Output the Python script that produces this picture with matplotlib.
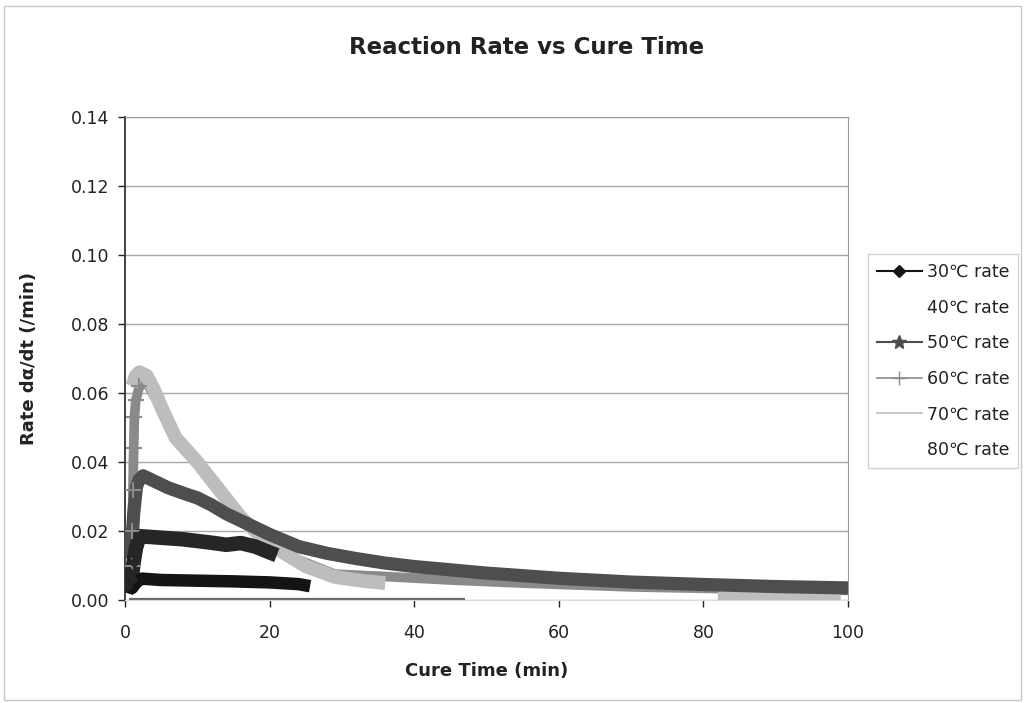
import numpy as np
import matplotlib
matplotlib.use("Agg")
import matplotlib.pyplot as plt
from matplotlib.lines import Line2D
from matplotlib.patches import Rectangle

plt.rcParams['font.family'] = ['DejaVu Sans']

# ---- data ----
t30 = [0.3, 0.6, 1.0, 1.5, 2.3, 5, 10, 15, 20, 24, 25.6]
r30 = [0.002, 0.004, 0.0035, 0.005, 0.0062, 0.0058, 0.0056, 0.0054, 0.0051, 0.0046, 0.0040]

t40 = [0.3, 0.6, 0.9, 1.2, 1.5, 2.0, 4, 8, 12, 14, 16, 18, 20, 21]
r40 = [0.004, 0.008, 0.006, 0.011, 0.015, 0.0185, 0.0182, 0.0176, 0.0166, 0.016, 0.0165, 0.0155, 0.0138, 0.013]

t50 = [0.8, 1.2, 1.6, 2.0, 2.5, 4, 6, 8, 10, 12, 14, 16, 20, 24, 28, 32, 36, 40, 50, 60, 70, 80, 90, 100]
r50 = [0.012, 0.025, 0.033, 0.035, 0.036, 0.0345, 0.0325, 0.031, 0.0296, 0.0275, 0.025, 0.023, 0.019, 0.0155,
       0.0135, 0.012, 0.0107, 0.0097, 0.0078, 0.0063, 0.0052, 0.0045, 0.0039, 0.0035]

t60 = [0.9, 1.0, 1.1, 1.2, 1.3, 1.5, 2.0, 3, 5, 7, 10, 13, 16, 22, 29, 36, 45, 55, 70, 85, 100]
r60 = [0.010, 0.020, 0.032, 0.044, 0.053, 0.058, 0.062, 0.063, 0.0555, 0.0465, 0.0395, 0.0315, 0.0236, 0.0133,
       0.0075, 0.0068, 0.0058, 0.0049, 0.0038, 0.0032, 0.0028]

t70 = [1.0, 1.5, 2.0, 3.0, 4.0, 5.0, 7.0, 10.0, 13.0, 16.0, 19.0, 22.0, 25.0, 29.0, 33.0, 36.0, 47.0, 82.0, 99.0]
r70 = [0.062, 0.065, 0.066, 0.065, 0.061, 0.056, 0.047, 0.040, 0.032, 0.024, 0.018, 0.0136, 0.0098, 0.0067,
       0.0055, 0.0049, np.nan, 0.0012, 0.0012]

t80 = [0.5, 10, 20, 30, 40, 47]
r80 = [0.0003, 0.0003, 0.0003, 0.0003, 0.0003, 0.0003]

yticks = [0.00, 0.02, 0.04, 0.06, 0.08, 0.10, 0.12, 0.14]
xticks = [0, 20, 40, 60, 80, 100]
legend_labels = ['30℃ rate', '40℃ rate', '50℃ rate', '60℃ rate', '70℃ rate', '80℃ rate']

# ---- figure ----
fig = plt.figure(figsize=(10.24, 7.03), dpi=100)
fig.patch.set_facecolor('white')
fig.add_artist(Rectangle((4/1024, 3/703), 1017/1024, 694/703, transform=fig.transFigure,
                         fill=False, edgecolor='#c8c8c8', linewidth=1.0))

ax = fig.add_axes([125/1024, 1 - 600/703, 723/1024, 483/703])

c30, c40, c50, c60, c70, c80 = '#141414', '#262626', '#4e4e4e', '#8a8a8a', '#bdbdbd', '#6a6a6a'

ax.plot(t80, r80, color=c80, lw=1.6, solid_capstyle='butt', zorder=2)
ax.plot(t60, r60, color=c60, lw=7, solid_capstyle='butt', zorder=3)
ax.plot(t70, r70, color=c70, lw=10, solid_capstyle='butt', zorder=4)
ax.plot(t50, r50, color=c50, lw=9.5, solid_capstyle='butt', zorder=5)
ax.plot(t40, r40, color=c40, lw=10.5, solid_capstyle='butt', zorder=6)
ax.plot(t30, r30, color=c30, lw=9, solid_capstyle='butt', zorder=7)
# marker details on the steep rises
ax.plot(t60[:7], r60[:7], linestyle='none', marker='+', ms=12, mew=1.5, color=c60, zorder=8)
ax.plot(t40[:6], r40[:6], linestyle='none', marker='D', ms=5, color=c40, zorder=8)

ax.set_xlim(0, 100)
ax.set_ylim(0, 0.14)
ax.set_xticks(xticks)
ax.set_yticks(yticks)
ax.set_yticklabels([f'{v:.2f}' for v in yticks])
ax.tick_params(axis='both', labelsize=12.5, colors='#222222', length=5, width=1, direction='out')
ax.tick_params(axis='y', pad=6)
ax.tick_params(axis='x', pad=12)
ax.yaxis.grid(True, color='#a8a8a8', lw=1.0)
ax.set_axisbelow(True)
for s in ['top', 'right']:
    ax.spines[s].set_color('#9a9a9a')
ax.spines['left'].set_color('#333333')
ax.spines['bottom'].set_color('#dcdcdc')
ax.spines['left'].set_linewidth(1.3)

ax.set_xlabel('Cure Time (min)', fontsize=13, fontweight='bold', labelpad=15, color='#222222')
ax.set_ylabel('Rate dα/dt (/min)', fontsize=13, fontweight='bold', labelpad=24, color='#222222')
fig.text(527/1024, 1 - 47/703, 'Reaction Rate vs Cure Time', ha='center', va='center',
         fontsize=16.5, fontweight='bold', color='#222222')

handles = [
    Line2D([], [], color=c30, lw=1.5, marker='D', ms=6),
    Line2D([], [], color='none', lw=1.5),
    Line2D([], [], color=c50, lw=1.5, marker='*', ms=10),
    Line2D([], [], color=c60, lw=1.2, marker='+', ms=10),
    Line2D([], [], color=c70, lw=1.2),
    Line2D([], [], color='none', lw=1.5),
]
leg = fig.legend(handles, legend_labels, loc='upper left', bbox_to_anchor=(868/1024, 1 - 254/703),
                 frameon=True, fancybox=False, edgecolor='#c8c8c8', fontsize=12.5,
                 handlelength=2.6, handletextpad=0.3, labelspacing=1.02, borderpad=0.5,
                 borderaxespad=0)
for txt in leg.get_texts():
    txt.set_color('#222222')

fig.savefig('out.png', dpi=100)
